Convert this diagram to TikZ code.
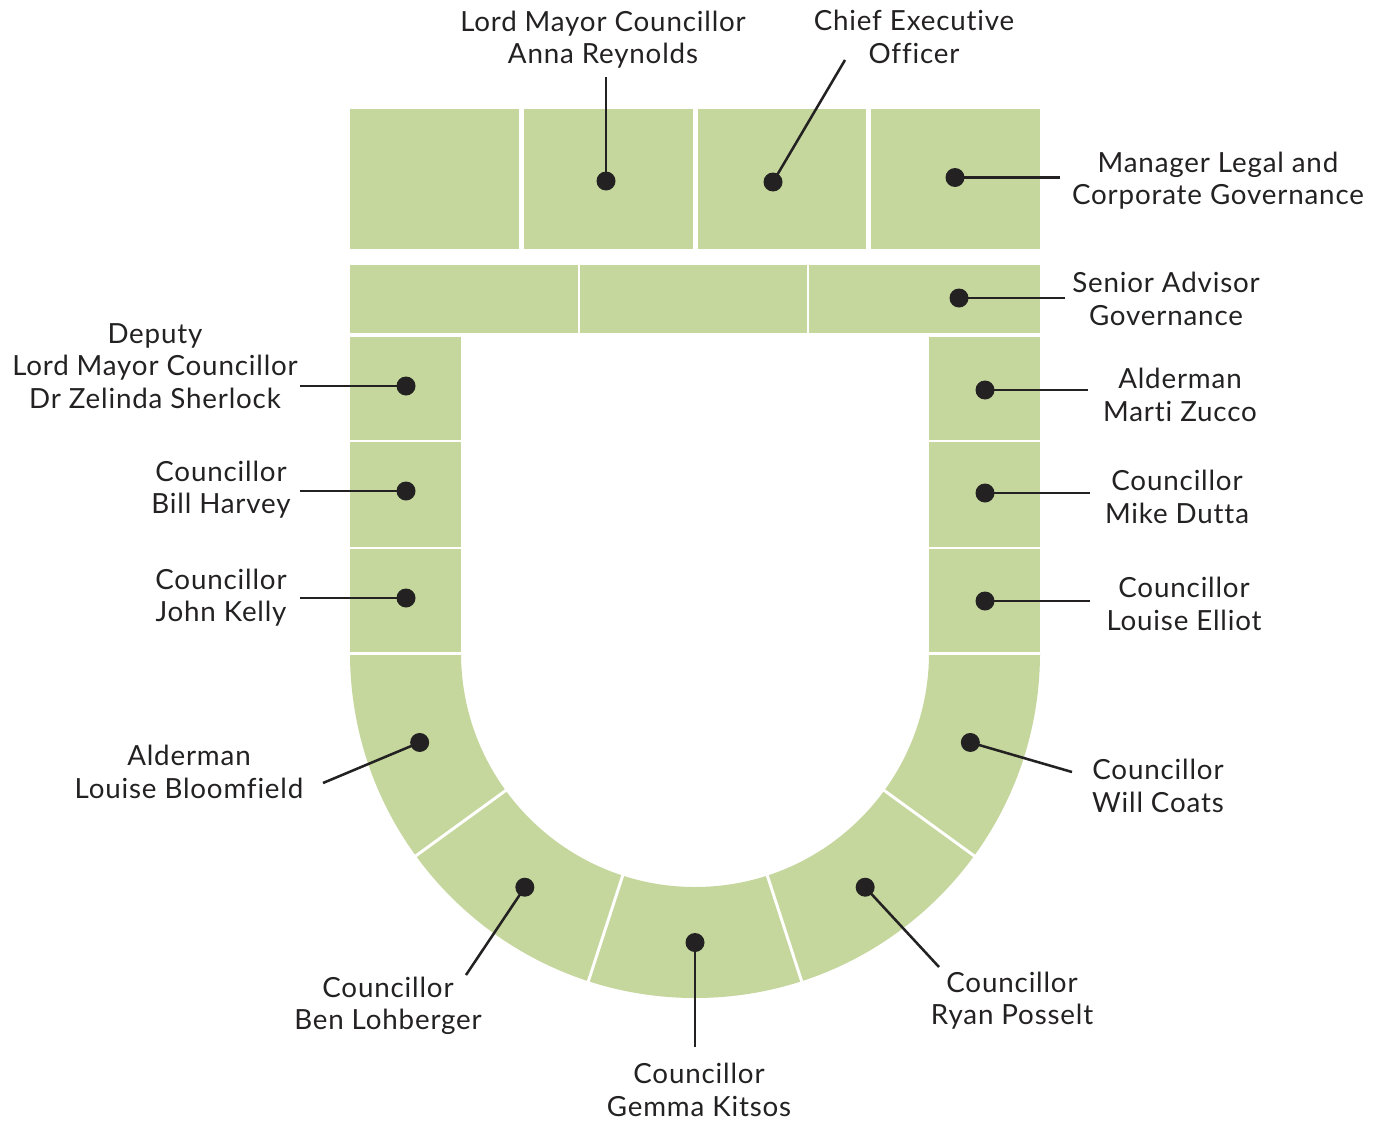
\documentclass[tikz,border=0pt]{standalone}
\usepackage{fontspec}
\setmainfont[LetterSpace=3,Ligatures=NoCommon]{Lato}
\usetikzlibrary{calc}
\definecolor{seat}{RGB}{197,215,157}
\definecolor{ink}{RGB}{35,33,34}
\begin{document}
\begin{tikzpicture}[x=0.75pt,y=-0.75pt,
  sep/.style={draw=white,line width=2.2pt},
  dot/.style={circle,fill=ink,draw=none,minimum size=14.25pt,inner sep=0pt},
  conn/.style={draw=ink,line width=1.9pt},
  lbl/.style={align=center,text=ink,inner sep=0pt,font=\fontsize{20.8}{24.2}\selectfont}]
\useasboundingbox[fill=white] (0,0) rectangle (1391,1124);
% top row
\fill[seat] (350,109) rectangle (518.75,249);
\fill[seat] (523.75,109) rectangle (692.5,249);
\fill[seat] (697.5,109) rectangle (866.25,249);
\fill[seat] (871.25,109) rectangle (1040,249);
% second row
\fill[seat] (350,265) rectangle (1040,333);
\draw[sep] (579,265) -- (579,333);
\draw[sep] (808,265) -- (808,333);
% columns
\fill[seat] (350,337) rectangle (461,653);
\fill[seat] (929,337) rectangle (1040,653);
% arc
\coordinate (c) at (695,653);
\fill[seat] (1040,653) arc[start angle=0,end angle=180,radius=345] -- (461,653) arc[start angle=180,end angle=0,radius=234] -- cycle;
\foreach \yy in {441,548,653.5}{
  \draw[sep] (350,\yy) -- (461,\yy);
  \draw[sep] (929,\yy) -- (1040,\yy);
}
\foreach \a in {36,72,108,144}{
  \draw[sep] ($(c)+(\a:233)$) -- ($(c)+(\a:346)$);
}
% dots
\node[dot] (lm) at (606,181) {};
\node[dot] (ceo) at (773,182) {};
\node[dot] (mgr) at (955,177.5) {};
\node[dot] (sen) at (959,298) {};
\node[dot] (dep) at (406,386) {};
\node[dot] (bill) at (406,491) {};
\node[dot] (john) at (406,598) {};
\node[dot] (marti) at (985,390) {};
\node[dot] (mike) at (985,493) {};
\node[dot] (le) at (985,601) {};
\node[dot] (bl) at ($(c)+(162:289.5)$) {};
\node[dot] (ben) at ($(c)+(126:289.5)$) {};
\node[dot] (gem) at ($(c)+(90:289.5)$) {};
\node[dot] (ryan) at ($(c)+(54:289.5)$) {};
\node[dot] (will) at ($(c)+(18:289.5)$) {};
% free ends
\coordinate (elm) at (606,77);
\coordinate (eceo) at (845,60);
\coordinate (emgr) at (1060,177.5);
\coordinate (esen) at (1065,298);
\coordinate (edep) at (300,386);
\coordinate (ebill) at (300,491);
\coordinate (ejohn) at (300,598);
\coordinate (emarti) at (1088,390);
\coordinate (emike) at (1090,493);
\coordinate (ele) at (1090,601);
\coordinate (ebl) at (323,783);
\coordinate (eben) at (466,975);
\coordinate (egem) at (695,1047);
\coordinate (eryan) at (939,967);
\coordinate (ewill) at (1072,772);
% connectors
\foreach \n in {lm,ceo,mgr,sen,dep,bill,john,marti,mike,le,bl,ben,gem,ryan,will}{
  \draw[conn] (e\n) -- (\n.center);
}
% labels
\node[lbl] (tlm) at (603,40) {Lord Mayor Councillor\\Anna Reynolds};
\node[lbl] (tceo) at (914,37) {Chief Executive\\Officer};
\node[lbl] (tmgr) at (1218,181) {Manager Legal and\\Corporate Governance};
\node[lbl] (tsen) at (1166,299) {Senior Advisor\\Governance};
\node[lbl] (tdep) at (155,366) {Deputy\\Lord Mayor Councillor\\Dr Zelinda Sherlock};
\node[lbl] (tbill) at (221,490) {Councillor\\Bill Harvey};
\node[lbl] (tjohn) at (221,598) {Councillor\\John Kelly};
\node[lbl] (tmarti) at (1180,395) {Alderman\\Marti Zucco};
\node[lbl] (tmike) at (1177,497) {Councillor\\Mike Dutta};
\node[lbl] (tle) at (1184,604) {Councillor\\Louise Elliot};
\node[lbl] (tbl) at (189,772) {Alderman\\Louise Bloomfield};
\node[lbl] (twill) at (1158,786) {Councillor\\Will Coats};
\node[lbl] (tben) at (388,1006) {Councillor\\Ben Lohberger};
\node[lbl] (tgem) at (699,1090) {Councillor\\Gemma Kitsos};
\node[lbl] (tryan) at (1012,1001) {Councillor\\Ryan Posselt};
\end{tikzpicture}
\end{document}
